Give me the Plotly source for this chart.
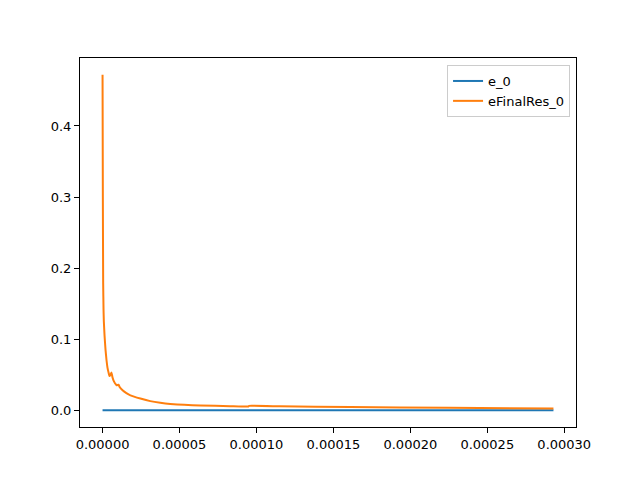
import plotly.graph_objects as go

t = [0, 2e-7, 4e-7, 6.5e-7, 8.4e-7, 1.3e-6, 1.94e-6, 2.6e-6, 3.2e-6, 3.9e-6, 4.5e-6,
     5.2e-6, 5.8e-6, 6.5e-6, 7.1e-6, 8.1e-6, 9.1e-6, 1.04e-5, 1.1e-5, 1.3e-5, 1.55e-5,
     1.81e-5, 2.46e-5, 3.1e-5, 3.75e-5, 4.4e-5, 5.3e-5, 6.35e-5, 8.3e-5, 9.46e-5, 9.52e-5,
     1.15e-4, 1.61e-4, 2.25e-4, 2.93e-4]
e_final = [0.472, 0.30, 0.18, 0.14, 0.125, 0.105, 0.085, 0.07, 0.06, 0.053, 0.048,
           0.050, 0.053, 0.046, 0.042, 0.038, 0.035, 0.036, 0.033, 0.028, 0.024,
           0.021, 0.0165, 0.0128, 0.0104, 0.0088, 0.0076, 0.0067, 0.0057, 0.0052, 0.0062,
           0.0055, 0.0045, 0.0034, 0.0026]
e0 = [0.0 for _ in t]

xticks = [0, 0.00005, 0.0001, 0.00015, 0.0002, 0.00025, 0.0003]
yticks = [0.0, 0.1, 0.2, 0.3, 0.4]

fig = go.Figure()
fig.add_trace(go.Scatter(x=t, y=e0, mode="lines", name="e_0",
                         line=dict(color="#1f77b4", width=2)))
fig.add_trace(go.Scatter(x=t, y=e_final, mode="lines", name="eFinalRes_0",
                         line=dict(color="#ff7f0e", width=2, shape="spline", smoothing=0.3)))

xmax = max(t)
ymax = max(e_final)
fig.update_layout(
    width=640, height=480,
    margin=dict(l=72, r=72, t=50, b=61),
    paper_bgcolor="white", plot_bgcolor="white",
    font=dict(family="DejaVu Sans", size=13, color="black"),
    showlegend=True,
    legend=dict(x=0.988, y=0.981, xanchor="right", yanchor="top",
                bordercolor="#cccccc", borderwidth=1, bgcolor="white",
                font=dict(size=13), tracegroupgap=0),
    xaxis=dict(range=[-0.05 * xmax, 1.05 * xmax], tickvals=xticks, tickformat=".5f",
               showgrid=False, zeroline=False, showline=True, linecolor="black",
               linewidth=1, mirror=True, ticks="outside", ticklen=5, tickcolor="black"),
    yaxis=dict(range=[-0.05 * ymax, 1.05 * ymax], tickvals=yticks, tickformat=".1f",
               showgrid=False, zeroline=False, showline=True, linecolor="black",
               linewidth=1, mirror=True, ticks="outside", ticklen=5, tickcolor="black"),
)
fig.write_html("out.html")
